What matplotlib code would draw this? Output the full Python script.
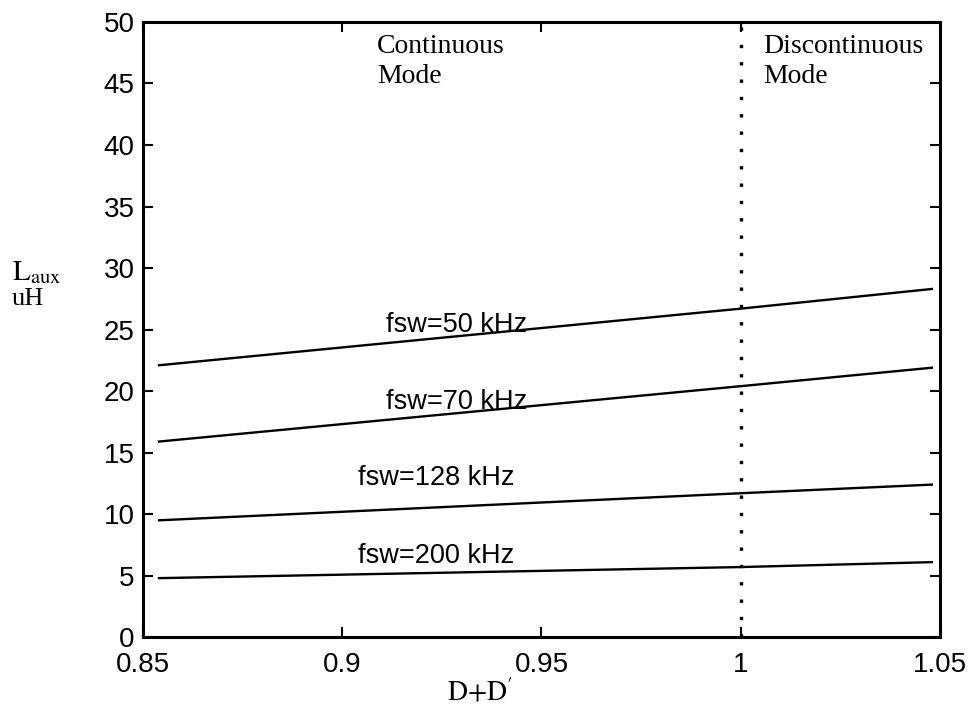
import matplotlib
matplotlib.use("Agg")
import matplotlib.pyplot as plt

# Data
x_vals = [0.854, 1.0, 1.048]
series = {
    "fsw=50 kHz": [22.1, 26.7, 28.3],
    "fsw=70 kHz": [15.9, 20.4, 21.9],
    "fsw=128 kHz": [9.5, 11.7, 12.4],
    "fsw=200 kHz": [4.8, 5.7, 6.1],
}
label_pos = {
    "fsw=50 kHz": (0.911, 25.4),
    "fsw=70 kHz": (0.911, 19.1),
    "fsw=128 kHz": (0.904, 12.9),
    "fsw=200 kHz": (0.904, 6.6),
}
x_ticks = [0.85, 0.9, 0.95, 1.0, 1.05]
x_ticklabels = ["0.85", "0.9", "0.95", "1", "1.05"]
y_ticks = list(range(0, 51, 5))
boundary = 1.0

plt.rcParams['mathtext.fontset'] = 'stix'

fig = plt.figure(figsize=(9.8, 7.08), dpi=100)
ax = fig.add_axes([0.146, 0.100, 0.813, 0.869])

for name, ys in series.items():
    ax.plot(x_vals, ys, color='black', lw=1.7)
    lx, ly = label_pos[name]
    ax.text(lx, ly, name, fontsize=19.5, family='Liberation Sans', va='center', ha='left')

ax.axvline(boundary, color='black', ls=(0, (1, 4.2)), lw=2.4)

serif = dict(family='Liberation Serif', fontsize=20, va='center', ha='left')
ax.text(0.9087, 48.0, "Continuous", **serif)
ax.text(0.9087, 45.6, "Mode", **serif)
ax.text(1.0056, 48.0, "Discontinuous", **serif)
ax.text(1.0056, 45.6, "Mode", **serif)

ax.set_xlim(0.85, 1.05)
ax.set_ylim(0, 50)
ax.set_xticks(x_ticks)
ax.set_xticklabels(x_ticklabels)
ax.set_yticks(y_ticks)
ax.tick_params(direction='in', length=7, width=1.5, top=True, right=True,
               labelsize=20)
ax.tick_params(axis='x', pad=11)
ax.tick_params(axis='y', pad=6)
for lab in ax.get_xticklabels() + ax.get_yticklabels():
    lab.set_family('Liberation Sans')
for s in ax.spines.values():
    s.set_linewidth(2.2)

fig.text(0.012, 0.615, r"$\mathrm{L_{aux}}$", fontsize=21, va='center', ha='left')
fig.text(0.012, 0.578, "uH", family='Liberation Serif', fontsize=19, va='center', ha='left')
fig.text(0.49, 0.022, r"$\mathrm{D{+}D^{\prime}}$", fontsize=20, va='center', ha='center')

fig.savefig("out.png", dpi=100)
